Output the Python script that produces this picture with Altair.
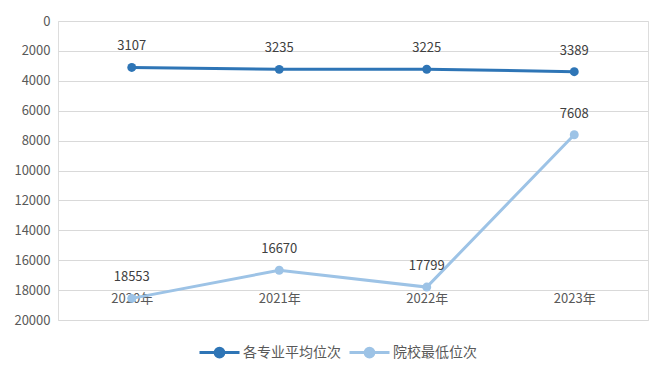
import altair as alt
import pandas as pd

years = ["2020年", "2021年", "2022年", "2023年"]
series_names = ["各专业平均位次", "院校最低位次"]
avg_rank = [3107, 3235, 3225, 3389]
min_rank = [18553, 16670, 17799, 7608]
colors = ["#2E75B6", "#9DC3E6"]

rows = []
for y, v in zip(years, avg_rank):
    rows.append({"year": y, "series": series_names[0], "rank": v})
for y, v in zip(years, min_rank):
    rows.append({"year": y, "series": series_names[1], "rank": v})
df = pd.DataFrame(rows)

legend_path = ("M-1,0H1"
               "M-0.22,0A0.22,0.22 0 1,0 0.22,0A0.22,0.22 0 1,0 -0.22,0"
               "M-0.12,0A0.12,0.12 0 1,0 0.12,0A0.12,0.12 0 1,0 -0.12,0"
               "M-0.03,0A0.03,0.03 0 1,0 0.03,0A0.03,0.03 0 1,0 -0.03,0")

x = alt.X("year:N", sort=years, title=None,
          scale=alt.Scale(paddingInner=0, paddingOuter=0),
          axis=alt.Axis(orient="bottom", offset=-28, domain=False, ticks=False,
                        labelAngle=0, labelFontSize=13, labelColor="#595959",
                        labelPadding=0, grid=False))
y = alt.Y("rank:Q", title=None,
          scale=alt.Scale(domain=[0, 20000], reverse=True, nice=False),
          axis=alt.Axis(values=list(range(0, 20001, 2000)), format="d",
                        domain=False, ticks=False,
                        labelFontSize=13, labelColor="#595959", labelPadding=8,
                        gridColor="#D9D9D9", gridWidth=1))
color = alt.Color("series:N", sort=series_names, title=None,
                  scale=alt.Scale(domain=series_names, range=colors),
                  legend=alt.Legend(orient="none", legendX=140, legendY=310,
                                    direction="horizontal",
                                    symbolType=legend_path, symbolSize=1600,
                                    symbolStrokeWidth=3, labelFontSize=14,
                                    labelColor="#595959", columnPadding=2,
                                    labelOffset=2))

base = alt.Chart(df)
lines = base.mark_line(strokeWidth=3).encode(x=x, y=y, color=color)
points = base.mark_circle(size=80, opacity=1).encode(
    x=x, y=y,
    color=alt.Color("series:N", sort=series_names,
                    scale=alt.Scale(domain=series_names, range=colors), legend=None))
labels = base.mark_text(dy=-21, fontSize=13, color="#404040").encode(
    x=x, y=y, text=alt.Text("rank:Q", format="d"))

chart = alt.layer(lines, points, labels).properties(
    width=590, height=299,
    padding={"left": 5, "top": 7, "right": 5, "bottom": 5},
).configure_view(stroke=None).configure(
    font="Microsoft YaHei, Noto Sans CJK SC, sans-serif", background="white")

chart.save("out.html", embed_options={"renderer": "svg", "actions": False})
